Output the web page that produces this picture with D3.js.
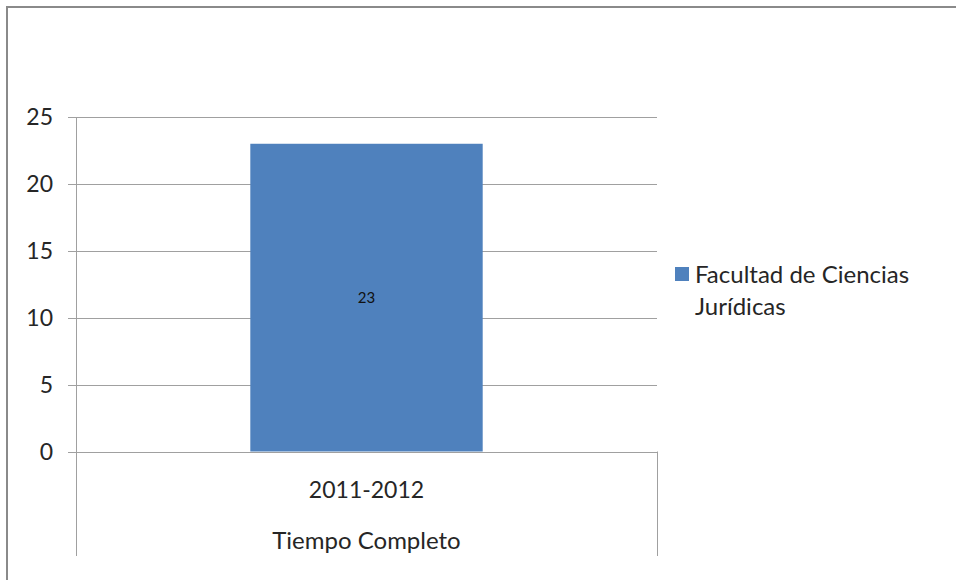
<!DOCTYPE html>
<html>
<head>
<meta charset="utf-8">
<script src="https://cdn.jsdelivr.net/npm/d3@7.9.0/dist/d3.min.js"></script>
<style>
  html, body { margin: 0; padding: 0; background: #fff; }
  svg { display: block; font-family: Lato, "Open Sans", sans-serif; }
</style>
</head>
<body>
<svg id="chart" width="956" height="580"></svg>
<script>
const years = ["2011-2012"];
const groups = ["Tiempo Completo"];
const values = [23];
const seriesName = ["Facultad de Ciencias", "Jurídicas"];
const yTicks = [0, 5, 10, 15, 20, 25];

const svg = d3.select("#chart");

// chart area border (only top and left show)
svg.append("path")
  .attr("d", "M7,580 V7 H956")
  .attr("fill", "none")
  .attr("stroke", "#8a8a8a")
  .attr("stroke-width", 2);

const plotL = 76, plotR = 657, plotT = 117, plotB = 451.5;

const x = d3.scaleBand().domain(years).range([plotL, plotR]).padding(0.4286);
const y = d3.scaleLinear().domain([0, 25]).range([plotB, plotT]);

// gridlines + tick marks
svg.append("g")
  .selectAll("line")
  .data(yTicks)
  .enter()
  .append("line")
  .attr("x1", plotL - 8)
  .attr("x2", plotR)
  .attr("y1", (d) => Math.round(y(d)) + 0.5)
  .attr("y2", (d) => Math.round(y(d)) + 0.5)
  .attr("stroke", "#a0a0a0")
  .attr("stroke-width", 1);

// y tick labels
svg.append("g")
  .selectAll("text")
  .data(yTicks)
  .enter()
  .append("text")
  .attr("x", 53)
  .attr("y", (d) => y(d))
  .attr("dy", "0.36em")
  .attr("text-anchor", "end")
  .attr("font-size", 23)
  .attr("fill", "#262626")
  .text((d) => d);

// y axis line, extends down through the category area
svg.append("line")
  .attr("x1", plotL + 0.5).attr("x2", plotL + 0.5)
  .attr("y1", plotT).attr("y2", 556)
  .attr("stroke", "#a0a0a0");

// right category divider
svg.append("line")
  .attr("x1", plotR + 0.5).attr("x2", plotR + 0.5)
  .attr("y1", plotB).attr("y2", 556)
  .attr("stroke", "#a0a0a0");

// bar
svg.append("g")
  .selectAll("rect")
  .data(values)
  .enter()
  .append("rect")
  .attr("x", (d, i) => x(years[i]))
  .attr("width", x.bandwidth())
  .attr("y", (d) => y(d))
  .attr("height", (d) => y(0) - y(d))
  .attr("fill", "#4f81bd");

// data label
svg.append("g")
  .selectAll("text")
  .data(values)
  .enter()
  .append("text")
  .attr("x", (d, i) => x(years[i]) + x.bandwidth() / 2)
  .attr("y", (d) => (y(d) + y(0)) / 2)
  .attr("dy", "0.36em")
  .attr("text-anchor", "middle")
  .attr("font-size", 15)
  .attr("fill", "#111")
  .text((d) => d);

// category labels
const cx = plotL + (plotR - plotL) / 2;
svg.append("text")
  .attr("x", cx).attr("y", 490).attr("dy", "0.36em")
  .attr("text-anchor", "middle").attr("font-size", 23).attr("fill", "#262626")
  .text(years[0]);
svg.append("text")
  .attr("x", cx).attr("y", 540).attr("dy", "0.36em")
  .attr("text-anchor", "middle").attr("font-size", 24).attr("fill", "#262626")
  .text(groups[0]);

// legend
svg.append("rect")
  .attr("x", 675).attr("y", 267).attr("width", 14).attr("height", 14)
  .attr("fill", "#4f81bd");
svg.append("text")
  .attr("x", 695).attr("y", 274)
  .attr("font-size", 24).attr("fill", "#262626")
  .selectAll("tspan")
  .data(seriesName)
  .enter()
  .append("tspan")
  .attr("x", 695)
  .attr("dy", (d, i) => i === 0 ? "0.36em" : "1.35em")
  .text((d) => d);
</script>
</body>
</html>
